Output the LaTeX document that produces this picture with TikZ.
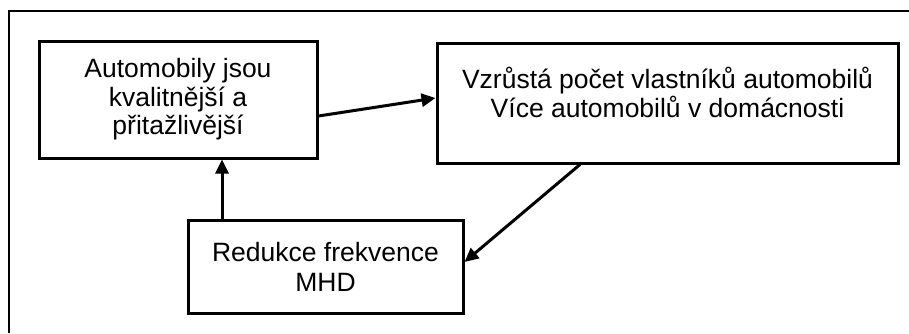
\documentclass[tikz,border=0pt]{standalone}
\usepackage{fontspec}
\setmainfont{Liberation Sans}
\usetikzlibrary{arrows.meta}
\begin{document}
\begin{tikzpicture}[x=1pt,y=-1pt,
  box/.style={draw=black, line width=3pt, fill=white, inner sep=0pt, align=center,
    font=\fontsize{26.5}{28.5}\selectfont},
  txt/.style={inner sep=0pt, align=center, font=\fontsize{26.5}{28.5}\selectfont},
  arr/.style={line width=3pt, -{Triangle[length=14pt,width=13pt]}}]
\useasboundingbox (0,0) rectangle (909,333);
\draw[line width=1.5pt] (9,333) -- (9,11) -- (909,11);
\node[box, minimum width=278pt, minimum height=117pt] (A) at (178,99.5)
  {Automobily jsou\\kvalitnější a\\přitažlivější};
\node[box, minimum width=461pt, minimum height=120pt] (B) at (667.5,103) {};
\node[txt, anchor=north] (Bt) at (667.5,67)
  {Vzrůstá počet vlastníků automobilů\\Více automobilů v domácnosti};
\node[box, minimum width=275pt, minimum height=93pt,
  font=\fontsize{26.5}{30}\selectfont] (C) at (325.5,266.5)
  {Redukce frekvence\\MHD};
\draw[arr] (A.east |- 0,116) -- (B.west |- 0,98);
\draw[arr] (C.north -| 222,0) -- (A.south -| 222,0);
\draw[arr] (B.south -| 580,0) -- (C.east |- 0,262);
\end{tikzpicture}
\end{document}
